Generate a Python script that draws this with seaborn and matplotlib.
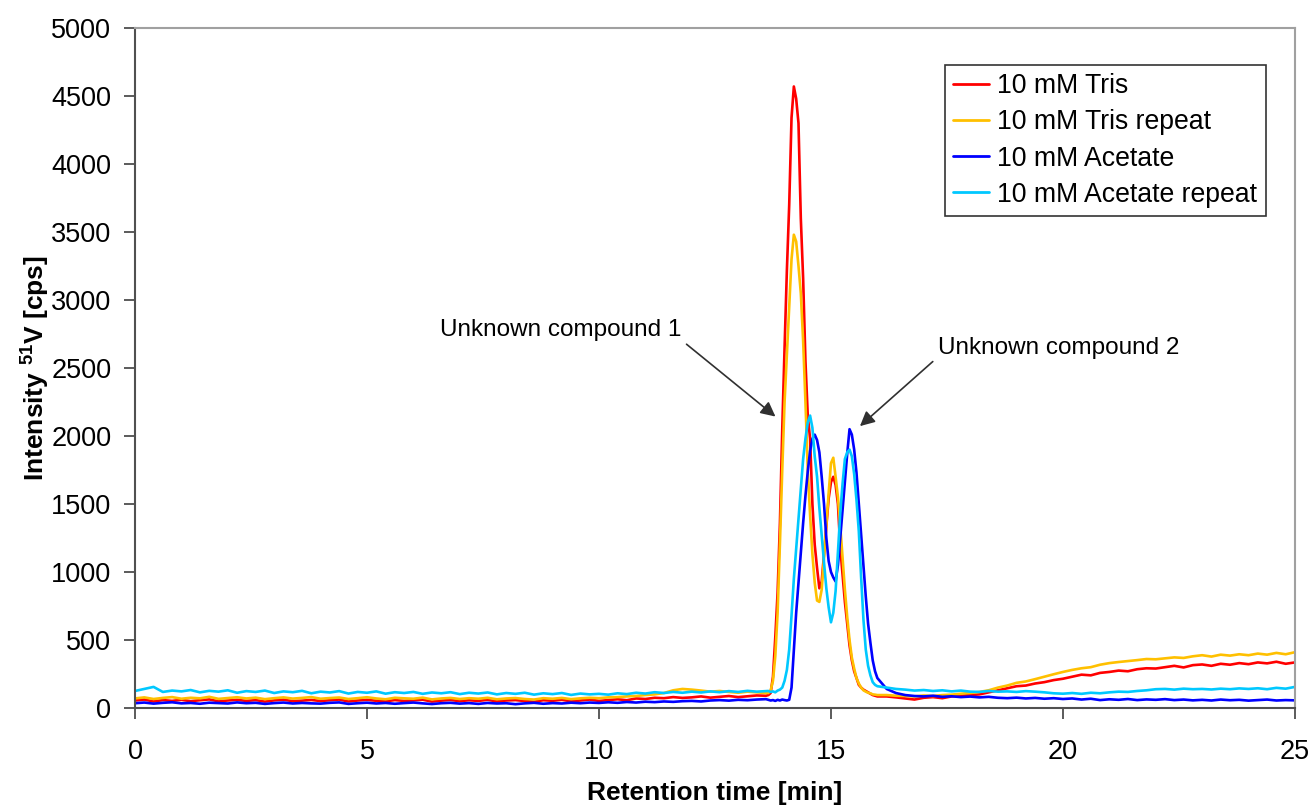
# chromatogram of 51V for tris / acetate buffers
import numpy as np
import pandas as pd
import matplotlib
matplotlib.use('Agg')
import matplotlib.pyplot as plt
import seaborn as sns

# retention time grid [min]: baseline, peak window, tail
t_base = np.round(np.arange(0, 13.61, 0.2), 2)
t_peak = np.round(np.arange(13.65, 16.001, 0.05), 2)
t_tail = np.round(np.arange(16.2, 25.001, 0.2), 2)
time = np.concatenate([t_base, t_peak, t_tail])

# 10 mM Tris
red_base = [55, 62, 48, 58, 52, 60, 50, 57, 63, 49, 55, 60, 52, 58, 47, 56, 61, 50, 54, 59,
            51, 57, 62, 48, 55, 60, 53, 49, 58, 52, 56, 61, 47, 54, 59, 50, 57, 52, 60, 48,
            55, 58, 51, 46, 57, 53, 60, 49, 55, 62, 52, 58, 64, 57, 70, 66, 75, 72, 80, 74,
            78, 85, 76, 82, 88, 80, 86, 92, 90]
red_peak = [95, 110, 230, 520, 850, 1360, 2050, 2650,
            3220, 3700, 4340, 4570, 4480, 4300, 3600, 3160, 2550, 2150,
            1980, 1500, 1200, 1030, 880, 930, 1130, 1340, 1540, 1660,
            1700, 1640, 1500, 1180, 980, 780, 620, 460, 350, 270,
            220, 170, 150, 135, 125, 115, 105, 95, 90, 85]
red_tail = [85, 78, 70, 62, 75, 80, 72, 85, 90, 95,
            100, 115, 130, 145, 160, 165, 180, 190, 205, 215,
            230, 245, 240, 258, 265, 275, 270, 285, 292, 290,
            300, 310, 298, 315, 320, 310, 325, 318, 330, 322,
            335, 328, 340, 325, 335]

# 10 mM Tris repeat
orange_base = [70, 78, 66, 74, 80, 68, 75, 71, 82, 67, 73, 79, 70, 76, 65, 72, 78, 69, 74, 80,
               68, 73, 77, 66, 72, 79, 70, 64, 75, 71, 68, 76, 63, 70, 74, 66, 72, 68, 75, 64,
               70, 73, 66, 62, 72, 68, 74, 65, 71, 75, 72, 78, 80, 85, 88, 95, 100, 110, 130, 140,
               135, 128, 120, 125, 118, 112, 120, 115, 110]
orange_peak = [110, 130, 200, 380, 700, 1210, 1750, 2250,
               2600, 2950, 3300, 3480, 3430, 3250, 3050, 2700, 2250, 1750,
               1420, 1130, 920, 790, 780, 870, 1110, 1350, 1580, 1800,
               1840, 1700, 1550, 1340, 1100, 870, 670, 500, 370, 290,
               220, 180, 150, 130, 120, 112, 108, 100, 98, 95]
orange_tail = [95, 90, 88, 85, 92, 88, 95, 98, 105, 110,
               118, 130, 150, 165, 185, 195, 212, 230, 248, 265,
               280, 292, 300, 318, 330, 338, 345, 352, 360, 358,
               365, 372, 368, 380, 388, 378, 392, 385, 395, 388,
               400, 392, 405, 395, 410]

# 10 mM Acetate
blue_base = [35, 40, 32, 38, 42, 34, 37, 31, 39, 36, 33, 41, 35, 38, 30, 36, 40, 33, 37, 34,
             32, 38, 41, 30, 35, 39, 33, 37, 31, 36, 40, 34, 29, 35, 38, 32, 36, 30, 37, 33,
             35, 28, 34, 38, 31, 36, 33, 39, 35, 40, 37, 42, 38, 44, 40, 46, 43, 48, 45, 50,
             52, 48, 55, 58, 54, 60, 57, 62, 65]
blue_peak = [60, 55, 58, 52, 60, 55, 62, 58,
             55, 60, 150, 420, 700, 920, 1130, 1360, 1560, 1740,
             1890, 1980, 2010, 1970, 1880, 1700, 1500, 1250, 1080, 1000,
             960, 930, 1050, 1250, 1460, 1680, 1870, 2050, 2010, 1900,
             1730, 1500, 1280, 1050, 820, 620, 480, 350, 270, 220]
blue_tail = [140, 110, 95, 88, 85, 90, 82, 86, 80, 84,
             78, 82, 75, 72, 76, 70, 74, 68, 72, 66,
             70, 62, 68, 58, 64, 60, 66, 58, 63, 60,
             65, 58, 62, 56, 60, 55, 62, 57, 60, 54,
             58, 62, 55, 58, 56]

# 10 mM Acetate repeat
cyan_base = [125, 140, 155, 118, 128, 122, 132, 115, 126, 120, 130, 112, 124, 118, 128, 110, 122, 116, 126, 108,
             120, 114, 124, 106, 118, 112, 122, 105, 116, 110, 118, 104, 114, 108, 116, 102, 112, 106, 114, 100,
             110, 104, 112, 98, 108, 102, 110, 96, 106, 100, 104, 98, 108, 102, 112, 106, 116, 110, 118, 112,
             120, 114, 122, 116, 124, 118, 126, 120, 124]
cyan_peak = [125, 118, 122, 115, 128, 135, 150, 200,
             280, 430, 680, 950, 1170, 1390, 1600, 1830, 1980, 2100,
             2150, 2060, 1850, 1700, 1470, 1270, 1070, 880, 740, 630,
             700, 860, 1150, 1430, 1650, 1830, 1880, 1900, 1850, 1720,
             1530, 1300, 960, 650, 430, 310, 240, 190, 170, 160]
cyan_tail = [150, 140, 135, 128, 132, 125, 130, 122, 128, 120,
             118, 125, 120, 122, 118, 124, 120, 115, 108, 105,
             110, 104, 112, 108, 115, 120, 118, 125, 130, 138,
             140, 135, 142, 138, 140, 136, 142, 138, 144, 140,
             145, 138, 148, 142, 155]

labels = ['10 mM Tris', '10 mM Tris repeat', '10 mM Acetate', '10 mM Acetate repeat']
colors = ['#ff0000', '#ffc000', '#0000ff', '#00c8ff']

series = [red_base + red_peak + red_tail,
          orange_base + orange_peak + orange_tail,
          blue_base + blue_peak + blue_tail,
          cyan_base + cyan_peak + cyan_tail]

frames = []
for lab, vals in zip(labels, series):
    frames.append(pd.DataFrame({'time': time, 'intensity': vals, 'sample': lab}))
df = pd.concat(frames, ignore_index=True)

sns.set_style('white')
plt.rcParams['font.family'] = ['Liberation Sans', 'DejaVu Sans']
plt.rcParams['mathtext.fontset'] = 'custom'
plt.rcParams['mathtext.rm'] = 'Liberation Sans'
plt.rcParams['mathtext.bf'] = 'Liberation Sans:bold'
plt.rcParams['text.color'] = 'black'
plt.rcParams['axes.labelcolor'] = 'black'

fig = plt.figure(figsize=(13.12, 8.07), dpi=100)
ax = fig.add_axes([0.1029, 0.1227, 0.8841, 0.8426])

sns.lineplot(data=df, x='time', y='intensity', hue='sample', palette=colors,
             estimator=None, sort=False, linewidth=1.9, ax=ax)

ax.set_xlim(0, 25)
ax.set_ylim(0, 5000)
ax.set_xticks(range(0, 26, 5))
ax.set_yticks(range(0, 5001, 500))
ax.tick_params(axis='both', labelsize=19.5, direction='out', length=8, width=1.2,
               color='#404040', labelcolor='black', bottom=True, left=True)
ax.tick_params(axis='x', pad=14)
ax.tick_params(axis='y', pad=9)

for side in ['left', 'bottom']:
    ax.spines[side].set_color('#505050')
    ax.spines[side].set_linewidth(1.5)
for side in ['top', 'right']:
    ax.spines[side].set_color('#a0a0a0')
    ax.spines[side].set_linewidth(1.5)

ax.set_xlabel('Retention time [min]', fontsize=19, fontweight='bold', labelpad=12)
ax.set_ylabel(r'Intensity $^{\mathbf{51}}$V [cps]', fontsize=19, fontweight='bold', labelpad=0)

handles, labs = ax.get_legend_handles_labels()
leg = ax.legend(handles, labs, loc='upper right', bbox_to_anchor=(0.975, 0.946),
                borderaxespad=0, fontsize=19.2, frameon=True, fancybox=False,
                handlelength=1.35, handletextpad=0.3, labelspacing=0.38, borderpad=0.32)
leg.get_frame().set_edgecolor('black')
leg.get_frame().set_linewidth(1.2)
for line in leg.get_lines():
    line.set_linewidth(2)

arrow = dict(arrowstyle='-|>', color='#303030', lw=1.2, mutation_scale=22)
ax.annotate('Unknown compound 1', xy=(13.85, 2130), xytext=(11.77, 2780),
            ha='right', va='center', fontsize=17.5, arrowprops=dict(arrow, relpos=(1, 0.05)))
ax.annotate('Unknown compound 2', xy=(15.58, 2059), xytext=(17.31, 2647),
            ha='left', va='center', fontsize=17.5, arrowprops=dict(arrow, relpos=(0, 0.1)))

fig.savefig('out.png', dpi=100)
